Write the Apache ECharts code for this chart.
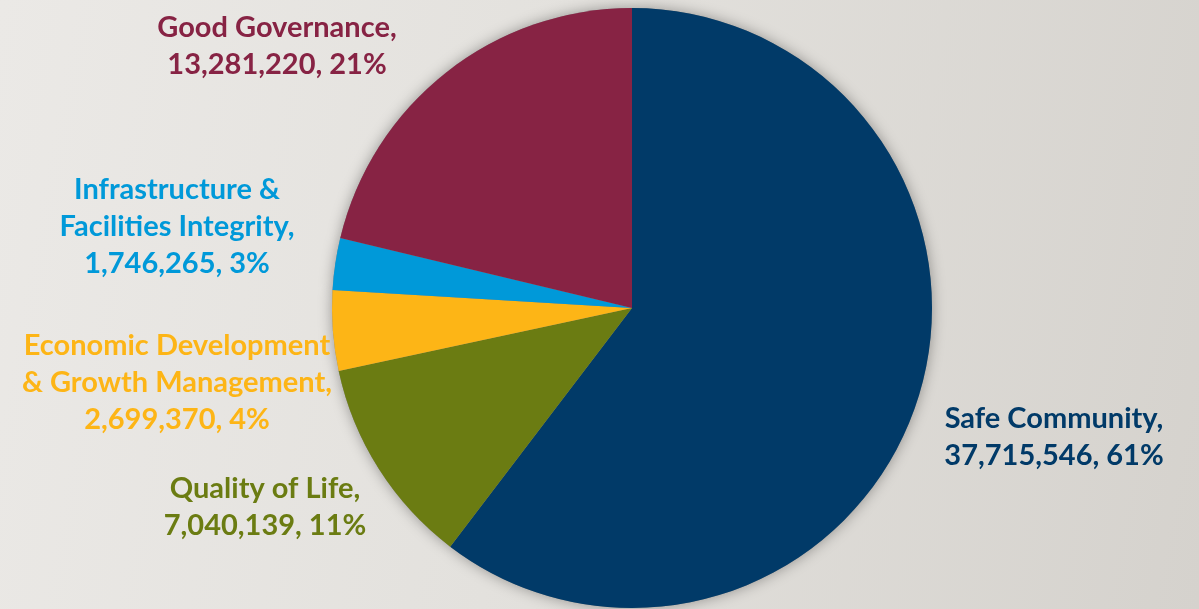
<!DOCTYPE html>
<html>
<head>
<meta charset="utf-8">
<title>Budget by Strategic Priority</title>
<script src="https://cdn.jsdelivr.net/npm/echarts@6/dist/echarts.min.js"></script>
<style>
  html, body { margin: 0; padding: 0; }
  #chart {
    width: 1199px; height: 609px;
    background: linear-gradient(100deg, #ebe9e6 0%, #e3e1dd 45%, #d5d2cd 100%);
  }
</style>
</head>
<body>
<div id="chart"></div>
<script>
// Budget allocation by strategic priority (clockwise from 12 o'clock)
const categories = [
  'Safe Community',
  'Quality of Life',
  'Economic Development\n& Growth Management',
  'Infrastructure &\nFacilities Integrity',
  'Good Governance'
];
const values = [37715546, 7040139, 2699370, 1746265, 13281220];
const colors = ['#013a68', '#6b7c12', '#fdb516', '#0099d9', '#872344'];

// Label anchor points (block centres) for each slice label
const labelSpots = [
  [1054, 437],
  [265, 507],
  [177, 383],
  [177, 227],
  [277, 46]
];

const chart = echarts.init(document.getElementById('chart'), null, { renderer: 'canvas' });

const pieData = categories.map((name, i) => ({
  name: name,
  value: values[i],
  itemStyle: { color: colors[i] },
  label: { color: colors[i] }
}));

const fmt = n => n.toLocaleString('en-US');

chart.setOption({
  backgroundColor: 'transparent',
  animation: false,
  series: [
    {
      // soft drop shadow underneath the pie
      type: 'pie',
      silent: true,
      z: 1,
      center: [632, 308],
      radius: [0, 300],
      startAngle: 90,
      label: { show: false },
      labelLine: { show: false },
      itemStyle: {
        color: '#888',
        shadowBlur: 14,
        shadowColor: 'rgba(0,0,0,0.35)'
      },
      data: values.map(v => ({ value: v }))
    },
    {
      type: 'pie',
      z: 2,
      center: [632, 308],
      radius: [0, 300],
      startAngle: 90,
      clockwise: true,
      avoidLabelOverlap: false,
      percentPrecision: 0,
      itemStyle: { borderWidth: 0 },
      labelLine: { show: false },
      label: {
        show: true,
        position: 'outside',
        alignTo: 'none',
        align: 'center',
        fontFamily: 'Lato',
        fontWeight: 'bold',
        fontSize: 29,
        lineHeight: 37,
        formatter: p => p.name + ',\n' + fmt(p.value) + ', ' + p.percent + '%'
      },
      labelLayout: p => ({
        x: labelSpots[p.dataIndex][0],
        y: labelSpots[p.dataIndex][1],
        align: 'center',
        verticalAlign: 'middle'
      }),
      data: pieData
    }
  ]
});
</script>
</body>
</html>
